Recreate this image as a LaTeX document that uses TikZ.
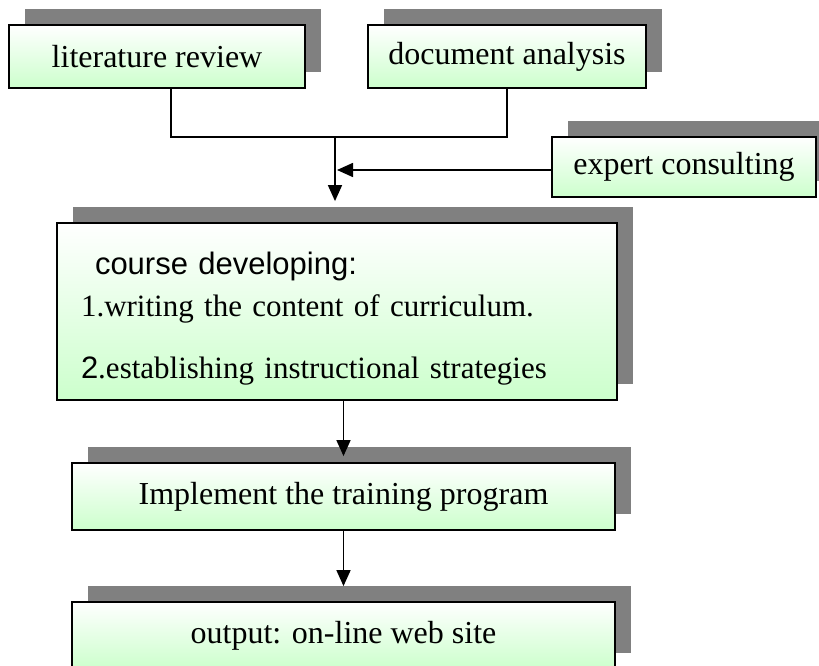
\documentclass[tikz,border=0pt]{standalone}
\usepackage{fontspec}
\setmainfont{Liberation Serif}
\newfontfamily\arialfont{Liberation Sans}
\usetikzlibrary{shadows,arrows.meta}
\tikzset{
  box/.style={draw, line width=1.8pt, top color=white, bottom color=green!20,
    general shadow={fill=gray, shadow xshift=16pt, shadow yshift=16pt},
    font=\fontsize{32}{38}\selectfont, inner sep=0pt},
  flow/.style={line width=1.6pt, -{Triangle[length=16pt,width=14pt]}},
  link/.style={line width=1.6pt}
}
\begin{document}
\begin{tikzpicture}[x=1pt,y=-1pt]
  \useasboundingbox (0,0) rectangle (819,666);
  \node (lit) [box, minimum width=296pt, minimum height=63pt] at (157,56.5) {literature review};
  \node (doc) [box, minimum width=278pt, minimum height=63pt] at (507,56.5) {document analysis};
  \node (expert) [box, minimum width=264pt, minimum height=60pt] at (684,167) {expert consulting};
  \node (course) [box, minimum height=177pt, text width=512pt, inner xsep=24pt, align=left,
    font=\fontsize{31}{37}\selectfont] at (337,311.5)
    {\rule{0pt}{36pt}\hspace*{14pt}{\arialfont course developing:}\\[5pt]
     1.writing the content of curriculum.\\[25pt]
     {\arialfont 2}.establishing instructional strategies};
  \node (impl) [box, minimum width=543pt, minimum height=67pt] at (343.5,496.5) {Implement the training program};
  \node (out) [box, minimum width=543pt, minimum height=67pt] at (343.5,635.5) {output: on-line web site};
  \coordinate (join) at (335,137);
  \draw [link] ([xshift=14pt]lit.south) |- (join) -| (doc.south);
  \draw [flow] (join) -- ([yshift=21pt]join |- course.north);
  \draw [flow] ([yshift=-3pt]expert.west) -- ([yshift=-3pt,xshift=2pt]join |- expert.west);
  \draw [flow] (impl.north |- course.south) -- ([yshift=6pt]impl.north);
  \draw [flow] (impl.south) -- ([yshift=15pt]out.north);
\end{tikzpicture}
\end{document}
